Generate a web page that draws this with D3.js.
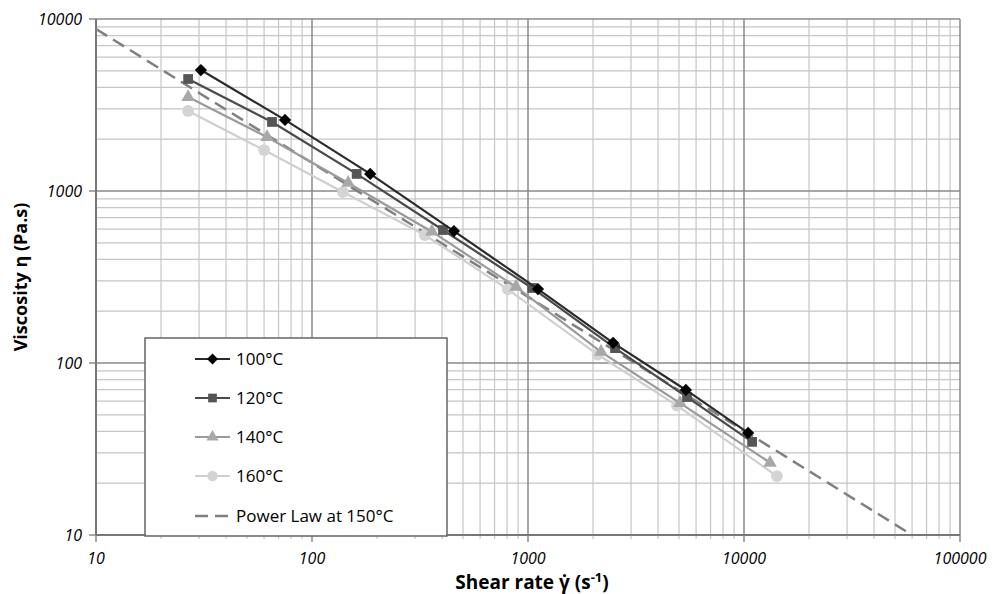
<!DOCTYPE html>
<html>
<head>
<meta charset="utf-8">
<script src="https://cdn.jsdelivr.net/npm/d3@7"></script>
<style>
  body { margin: 0; background: #fff; }
  text { font-family: "Open Sans", "Liberation Sans", sans-serif; }
</style>
</head>
<body>
<div id="chart"></div>
<script>
// shear rate (1/s) and viscosity (Pa.s)
var series = ["100°C", "120°C", "140°C", "160°C"];
var rate100 = [30.6, 75, 186, 454, 1112, 2477, 5383, 10450];
var visc100 = [5050, 2590, 1257, 585, 269, 131, 69.7, 39.2];
var rate120 = [26.7, 65.3, 161, 404, 1045, 2530, 5450, 10900];
var visc120 = [4480, 2520, 1257, 593, 273, 122, 63.4, 34.8];
var rate140 = [26.7, 61.9, 147, 359, 880, 2178, 5058, 13200];
var visc140 = [3520, 2060, 1114, 580, 277, 116, 58.5, 26.3];
var rate160 = [26.7, 60, 139, 333, 807, 2100, 4900, 14200];
var visc160 = [2920, 1730, 986, 555, 268, 112, 56.5, 22.0];
var powerRate = [10, 60000];
var powerVisc = [8750, 10];
var xTicks = [10, 100, 1000, 10000, 100000];
var yTicks = [10, 100, 1000, 10000];

var W = 1003, H = 594;
var pLeft = 96, pTop = 19, pRight = 960, pBottom = 535;

var svg = d3.select("#chart").append("svg")
  .attr("width", W)
  .attr("height", H);

var x = d3.scaleLog().domain([10, 100000]).range([pLeft, pRight]);
var y = d3.scaleLog().domain([10, 10000]).range([pBottom, pTop]);

// minor values
var minorX = [], minorY = [];
xTicks.slice(0, -1).forEach(function(d){ for (var k = 2; k < 10; k++) minorX.push(d * k); });
yTicks.slice(0, -1).forEach(function(d){ for (var k = 2; k < 10; k++) minorY.push(d * k); });

var grid = svg.append("g");
grid.selectAll(".mx").data(minorX).enter().append("line")
  .attr("x1", d => x(d)).attr("x2", d => x(d))
  .attr("y1", pTop).attr("y2", pBottom + 4)
  .attr("stroke", "#c6c6c6").attr("stroke-width", 1.2);
grid.selectAll(".my").data(minorY).enter().append("line")
  .attr("x1", pLeft).attr("x2", pRight)
  .attr("y1", d => y(d)).attr("y2", d => y(d))
  .attr("stroke", "#c6c6c6").attr("stroke-width", 1.2);
grid.selectAll(".Mx").data(xTicks).enter().append("line")
  .attr("x1", d => x(d)).attr("x2", d => x(d))
  .attr("y1", pTop).attr("y2", pBottom + 7)
  .attr("stroke", "#8a8a8a").attr("stroke-width", 1.5);
grid.selectAll(".My").data(yTicks).enter().append("line")
  .attr("x1", pLeft - 7).attr("x2", pRight)
  .attr("y1", d => y(d)).attr("y2", d => y(d))
  .attr("stroke", "#8a8a8a").attr("stroke-width", 1.5);

// axes lines
svg.append("line").attr("x1", pLeft).attr("x2", pLeft).attr("y1", pTop).attr("y2", pBottom)
  .attr("stroke", "#777").attr("stroke-width", 2);
svg.append("line").attr("x1", pLeft).attr("x2", pRight).attr("y1", pBottom).attr("y2", pBottom)
  .attr("stroke", "#777").attr("stroke-width", 2);

// tick labels
svg.selectAll(".xl").data(xTicks).enter().append("text")
  .attr("x", d => x(d)).attr("y", pBottom + 29)
  .attr("text-anchor", "middle")
  .style("font-style", "italic").style("font-size", "16px")
  .text(d => d);
svg.selectAll(".yl").data(yTicks).enter().append("text")
  .attr("x", pLeft - 14).attr("y", d => y(d) + 5.5)
  .attr("text-anchor", "end")
  .style("font-style", "italic").style("font-size", "16px")
  .text(d => d);

// axis titles
var xt = svg.append("text")
  .attr("x", 532).attr("y", 589)
  .attr("text-anchor", "middle")
  .style("font-weight", "bold").style("font-size", "19px");
xt.append("tspan").text("Shear rate \u03B3\u0307 (s");
xt.append("tspan").attr("dy", -7).style("font-size", "13px").text("-1");
xt.append("tspan").attr("dy", 7).text(")");

svg.append("text")
  .attr("transform", "translate(27," + ((pTop + pBottom) / 2) + ") rotate(-90)")
  .attr("text-anchor", "middle")
  .style("font-weight", "bold").style("font-size", "18px")
  .text("Viscosity \u03B7 (Pa.s)");

// power law
var lineGen = d3.line().x(d => x(d[0])).y(d => y(d[1]));
svg.append("path")
  .datum(d3.zip(powerRate, powerVisc))
  .attr("d", lineGen)
  .attr("fill", "none").attr("stroke", "#808080")
  .attr("stroke-width", 2.5).attr("stroke-dasharray", "13,7");

var styles = [
  { line: "#2a2a2a", fill: "#000000", sym: d3.symbolSquare, size: 75, rot: 45 },
  { line: "#4a4a4a", fill: "#555555", sym: d3.symbolSquare, size: 95, rot: 0 },
  { line: "#9a9a9a", fill: "#a8a8a8", sym: d3.symbolTriangle, size: 80, rot: 0 },
  { line: "#cfcfcf", fill: "#d4d4d4", sym: d3.symbolCircle, size: 110, rot: 0 }
];
var rates = [rate100, rate120, rate140, rate160];
var viscs = [visc100, visc120, visc140, visc160];

// draw lightest first so darker series sit on top
for (var i = series.length - 1; i >= 0; i--) {
  var pts = d3.zip(rates[i], viscs[i]);
  var st = styles[i];
  svg.append("path").datum(pts).attr("d", lineGen)
    .attr("fill", "none").attr("stroke", st.line).attr("stroke-width", 2.2);
  svg.selectAll(".m" + i).data(pts).enter().append("path")
    .attr("transform", d => "translate(" + x(d[0]) + "," + y(d[1]) + ") rotate(" + st.rot + ")")
    .attr("d", d3.symbol().type(st.sym).size(st.size))
    .attr("fill", st.fill);
}

// legend
var lg = svg.append("g");
lg.append("rect")
  .attr("x", 145).attr("y", 338).attr("width", 302).attr("height", 198)
  .attr("fill", "#fff").attr("stroke", "#666").attr("stroke-width", 1.5);
var legY = [359, 398, 437, 476];
series.forEach(function(s, i) {
  var st = styles[i];
  lg.append("line").attr("x1", 195).attr("x2", 230).attr("y1", legY[i]).attr("y2", legY[i])
    .attr("stroke", st.line).attr("stroke-width", 2.2);
  lg.append("path")
    .attr("transform", "translate(212.5," + legY[i] + ") rotate(" + st.rot + ")")
    .attr("d", d3.symbol().type(st.sym).size(st.size * 0.8))
    .attr("fill", st.fill);
  lg.append("text").attr("x", 236).attr("y", legY[i] + 6)
    .style("font-size", "17px").text(s);
});
lg.append("line").attr("x1", 195).attr("x2", 232).attr("y1", 516).attr("y2", 516)
  .attr("stroke", "#808080").attr("stroke-width", 2.5).attr("stroke-dasharray", "13,7");
lg.append("text").attr("x", 236).attr("y", 522)
  .style("font-size", "17px").text("Power Law at 150°C");
</script>
</body>
</html>
